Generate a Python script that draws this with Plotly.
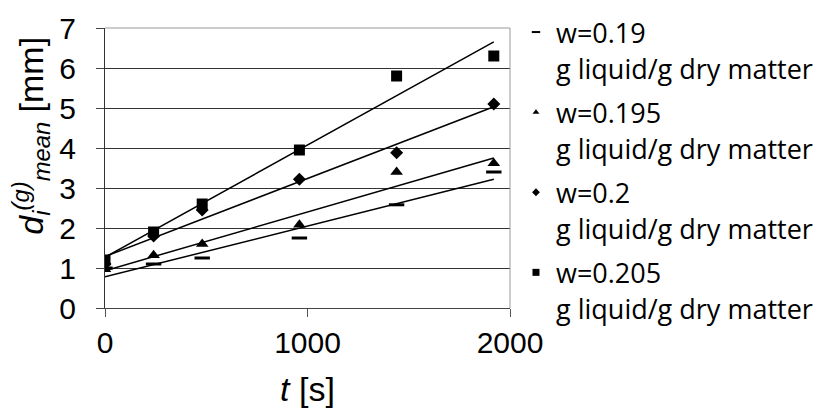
import numpy as np
import plotly.graph_objects as go

t = [0, 240, 480, 960, 1440, 1920]
series_names = ["w=0.19", "w=0.195", "w=0.2", "w=0.205"]
unit_text = "g liquid/g dry matter"
d_019 = [1.0, 1.1, 1.25, 1.75, 2.58, 3.4]
d_0195 = [0.97, 1.32, 1.6, 2.08, 3.4, 3.62]
d_02 = [1.1, 1.8, 2.45, 3.22, 3.88, 5.1]
d_0205 = [1.2, 1.9, 2.6, 3.95, 5.8, 6.3]
x_ticks = [0, 1000, 2000]
y_ticks = [0, 1, 2, 3, 4, 5, 6, 7]

series = [d_019, d_0195, d_02, d_0205]
symbols = ["line-ew", "triangle-up", "diamond", "square"]
sizes = [11, 11, 10, 11]
legend_sizes = [6, 6, 6, 7]

fig = go.Figure()

# trend lines (least squares fits)
for ys in series:
    k, b = np.polyfit(t, ys, 1)
    xs = np.array([t[0], t[-1]])
    fig.add_trace(go.Scatter(x=xs, y=k * xs + b, mode="lines",
                             line=dict(color="black", width=1.5),
                             showlegend=False, hoverinfo="skip"))

# data markers
for ys, sym, sz in zip(series, symbols, sizes):
    fig.add_trace(go.Scatter(x=t, y=ys, mode="markers",
                             marker=dict(symbol=sym, size=sz, color="black",
                                         line=dict(color="black", width=3 if sym == "line-ew" else 0)),
                             showlegend=False))

# legend entries
for i, (name, sym, sz) in enumerate(zip(series_names, symbols, legend_sizes)):
    fig.add_trace(go.Scatter(x=[None], y=[None], mode="markers", name=name,
                             legendgroup="g%d" % i,
                             marker=dict(symbol=sym, size=sz, color="black",
                                         line=dict(color="black", width=2 if sym == "line-ew" else 0))))

axis_font = dict(family="Liberation Sans", size=30, color="black")
title_font = dict(family="Liberation Sans", size=34, color="black")
legend_font = dict(family="Open Sans", size=27, color="black")

annotations = []
# second line of every legend entry
for yv in [6, 4, 2, 0]:
    annotations.append(dict(text=unit_text, xref="paper", yref="y", x=1.109, y=yv,
                            xanchor="left", yanchor="middle", showarrow=False,
                            font=legend_font))
# y axis title
annotations.append(dict(text="<i>d</i><sub><i>i</i></sub><sup><i>(g)</i></sup><sub><i>mean</i></sub> [mm]",
                        xref="paper", yref="paper", x=-0.183, y=0.615,
                        xanchor="center", yanchor="middle", textangle=-90,
                        showarrow=False, font=title_font))

fig.update_layout(
    width=818, height=400,
    margin=dict(l=97, r=316, t=20, b=100, autoexpand=False),
    paper_bgcolor="white", plot_bgcolor="white",
    showlegend=True,
    legend=dict(xref="container", yref="container", x=0.621, y=1.01,
                xanchor="left", yanchor="top", valign="middle",
                font=legend_font, itemwidth=30, tracegroupgap=42, maxheight=400,
                bgcolor="rgba(0,0,0,0)"),
    xaxis=dict(range=[0, 2000], tickvals=x_ticks, ticks="outside", ticklen=8,
               tickcolor="#555", showgrid=False, zeroline=False,
               showline=True, linecolor="#444", linewidth=1,
               tickfont=axis_font, automargin=False,
               title=dict(text="<i>t</i> [s]", font=title_font, standoff=28)),
    yaxis=dict(range=[0, 7], tickvals=y_ticks, ticks="outside", ticklen=8,
               tickcolor="#444", showgrid=True, gridcolor="#333", gridwidth=1,
               zeroline=False, showline=True, linecolor="#333", linewidth=1,
               tickfont=axis_font, ticklabelstandoff=14, automargin=False),
    annotations=annotations,
    shapes=[
        dict(type="line", xref="paper", yref="paper", x0=0, x1=1, y0=1, y1=1,
             line=dict(color="#999", width=1)),
        dict(type="line", xref="paper", yref="paper", x0=1, x1=1, y0=0, y1=1,
             line=dict(color="#999", width=1)),
    ],
)

fig.write_html("out.html")
